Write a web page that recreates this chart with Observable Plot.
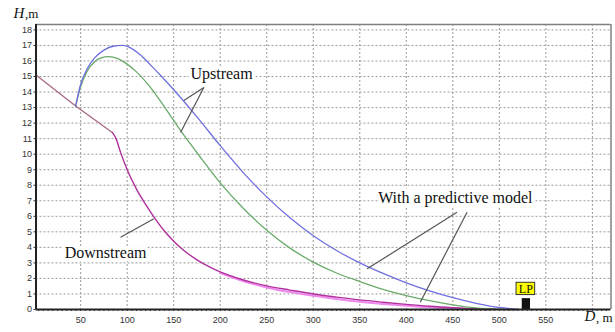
<!DOCTYPE html>
<html><head><meta charset="utf-8">
<script src="https://cdn.jsdelivr.net/npm/d3@7"></script>
<script src="https://cdn.jsdelivr.net/npm/@observablehq/plot@0.6"></script>
<style>body{margin:0;background:#fff} svg{display:block}</style>
</head><body><div id="chart"></div>
<script>
const xTicks = [50,100,150,200,250,300,350,400,450,500,550];
const xGrid = [50,100,150,200,250,300,350,400,450,500,550,600];
const yTicks = [0,1,2,3,4,5,6,7,8,9,10,11,12,13,14,15,16,17,18];

const upstreamX = [44.6,50,57,65,75,85,95,105,115,125,137,150,175,200,225,250,275,300,325,350,375,400,425,450,475,500,520];
const upstreamY = [13.1,14.5,15.5,16.2,16.7,16.95,17.0,16.8,16.35,15.75,15.0,14.15,12.4,10.55,8.8,7.25,5.9,4.75,3.8,3.0,2.32,1.72,1.2,0.76,0.4,0.13,0];

const greenX = [44.6,50,57,65,72,80,90,100,110,125,140,160,180,200,225,250,275,300,325,350,375,400,425,450,475,505];
const greenY = [13.1,14.35,15.35,15.95,16.2,16.28,16.15,15.8,15.3,14.3,13.05,11.3,9.7,8.15,6.5,5.1,3.95,3.05,2.35,1.8,1.3,0.9,0.57,0.3,0.1,0];

const downUpperX = [2,44.6,84];
const downUpperY = [15.1,13.1,11.4];

const downX = [84,88,93,100,110,120,130,140,150,160,175,190,200,225,250,275,300,325,350,375,400,425,450,475,500,520];
const downY = [11.4,11.0,10.1,9.0,7.75,6.75,5.85,5.05,4.4,3.85,3.2,2.7,2.42,1.9,1.52,1.25,1.0,0.8,0.62,0.47,0.33,0.21,0.12,0.05,0.01,0];

const pinkX = [200,225,250,275,300,325,350,375,400,425,450,475,490];
const pinkY = [2.35,1.82,1.42,1.12,0.88,0.68,0.5,0.36,0.24,0.14,0.07,0.02,0];

const labels = ["Upstream","With a predictive model","Downstream"];
const labelX = [201.4,452.7,76.8];
const labelY = [15.19,7.2,3.67];

const leaderX1 = [182.4,182.4,454.5,465.3,92.9];
const leaderY1 = [14.3,14.3,6.26,6.26,4.65];
const leaderX2 = [160.9,157.4,357.9,415,128.7];
const leaderY2 = [13.45,11.4,2.62,0.47,5.84];

const lpBox = [{x1:518.5,x2:538.5,y1:0.93,y2:1.72}];
const lpBar = [{x1:524.6,x2:533.5,y1:0,y2:0.7}];
const lpText = [{x:528.5,y:1.32,t:"LP"}];

const minorX = d3.range(5,620,5);

const pts = (xs, ys) => xs.map((x,i)=>({x, y: ys[i]}));
const leaders = leaderX1.map((d,i)=>({x1:d,y1:leaderY1[i],x2:leaderX2[i],y2:leaderY2[i]}));
const labelData = labels.map((t,i)=>({t,x:labelX[i],y:labelY[i]}));

const serif = "'Liberation Serif', 'Times New Roman', serif";

const chart = Plot.plot({
  width: 615, height: 332,
  marginLeft: 35.5, marginRight: 4.5, marginTop: 24, marginBottom: 23,
  x: {domain: [2, 620], axis: null},
  y: {domain: [0, 18.35], axis: null},
  style: {fontFamily: "'Liberation Sans', Arial, sans-serif", background: "#fff", overflow: "visible"},
  marks: [
    Plot.ruleY(yTicks.filter(d => d > 0), {stroke: "#9a9a9a", strokeDasharray: "2,2"}),
    Plot.ruleX(xGrid, {stroke: "#9a9a9a", strokeDasharray: "2,2"}),
    Plot.ruleY([18.35], {stroke: "#808080", strokeWidth: 1.5}),
    Plot.ruleX([620], {stroke: "#808080", strokeWidth: 1.5}),
    Plot.line(pts(downUpperX, downUpperY), {x: "x", y: "y", stroke: "#a86888", strokeWidth: 1.3}),
    Plot.line(pts(pinkX, pinkY), {x: "x", y: "y", stroke: "#ee88ee", strokeWidth: 2, curve: "monotone-x"}),
    Plot.line(pts(downX, downY), {x: "x", y: "y", stroke: "#b0309c", strokeWidth: 1.4, curve: "monotone-x"}),
    Plot.line(pts(greenX, greenY), {x: "x", y: "y", stroke: "#6aaa6a", strokeWidth: 1.3, curve: "monotone-x"}),
    Plot.line(pts(upstreamX, upstreamY), {x: "x", y: "y", stroke: "#6f6fe0", strokeWidth: 1.3, curve: "monotone-x"}),
    Plot.link(leaders, {x1: "x1", y1: "y1", x2: "x2", y2: "y2", stroke: "#555", strokeWidth: 1.2}),
    Plot.text(labelData, {x: "x", y: "y", text: "t", fontFamily: serif, fontSize: 16, fill: "#111", stroke: "white", strokeWidth: 7}),
    Plot.rect(lpBar, {x1: "x1", x2: "x2", y1: "y1", y2: "y2", fill: "#111"}),
    Plot.rect(lpBox, {x1: "x1", x2: "x2", y1: "y1", y2: "y2", fill: "#ffff00", stroke: "#333", strokeWidth: 1}),
    Plot.text(lpText, {x: "x", y: "y", text: "t", fontFamily: serif, fontSize: 12, fill: "#111"}),
    Plot.ruleX(minorX, {y1: 0, y2: -0.13, stroke: "#333"}),
    Plot.ruleY([0], {stroke: "#222", strokeWidth: 2}),
    Plot.ruleX([2], {stroke: "#222", strokeWidth: 2}),
    Plot.axisY({ticks: yTicks, tickSize: 2, tickPadding: 2, fontSize: 9, fill: "#333", stroke: "#333"}),
    Plot.axisX({ticks: xTicks, tickSize: 0, tickPadding: 7, fontSize: 9, fill: "#333"}),
    Plot.text(["H"], {frameAnchor: "top-left", dx: -17, dy: -17, fontFamily: serif, fontStyle: "italic", fontSize: 15, fill: "#111", textAnchor: "middle"}),
    Plot.text([",m"], {frameAnchor: "top-left", dx: -11, dy: -16, fontFamily: serif, fontSize: 13, fill: "#111", textAnchor: "start"}),
    Plot.text(["D"], {frameAnchor: "bottom-right", dx: -21, dy: 11, fontFamily: serif, fontStyle: "italic", fontSize: 15, fill: "#111", textAnchor: "middle"}),
    Plot.text([", m"], {frameAnchor: "bottom-right", dx: -15, dy: 12, fontFamily: serif, fontSize: 13, fill: "#111", textAnchor: "start"})
  ]
});
document.getElementById("chart").append(chart);
</script>
</body></html>
